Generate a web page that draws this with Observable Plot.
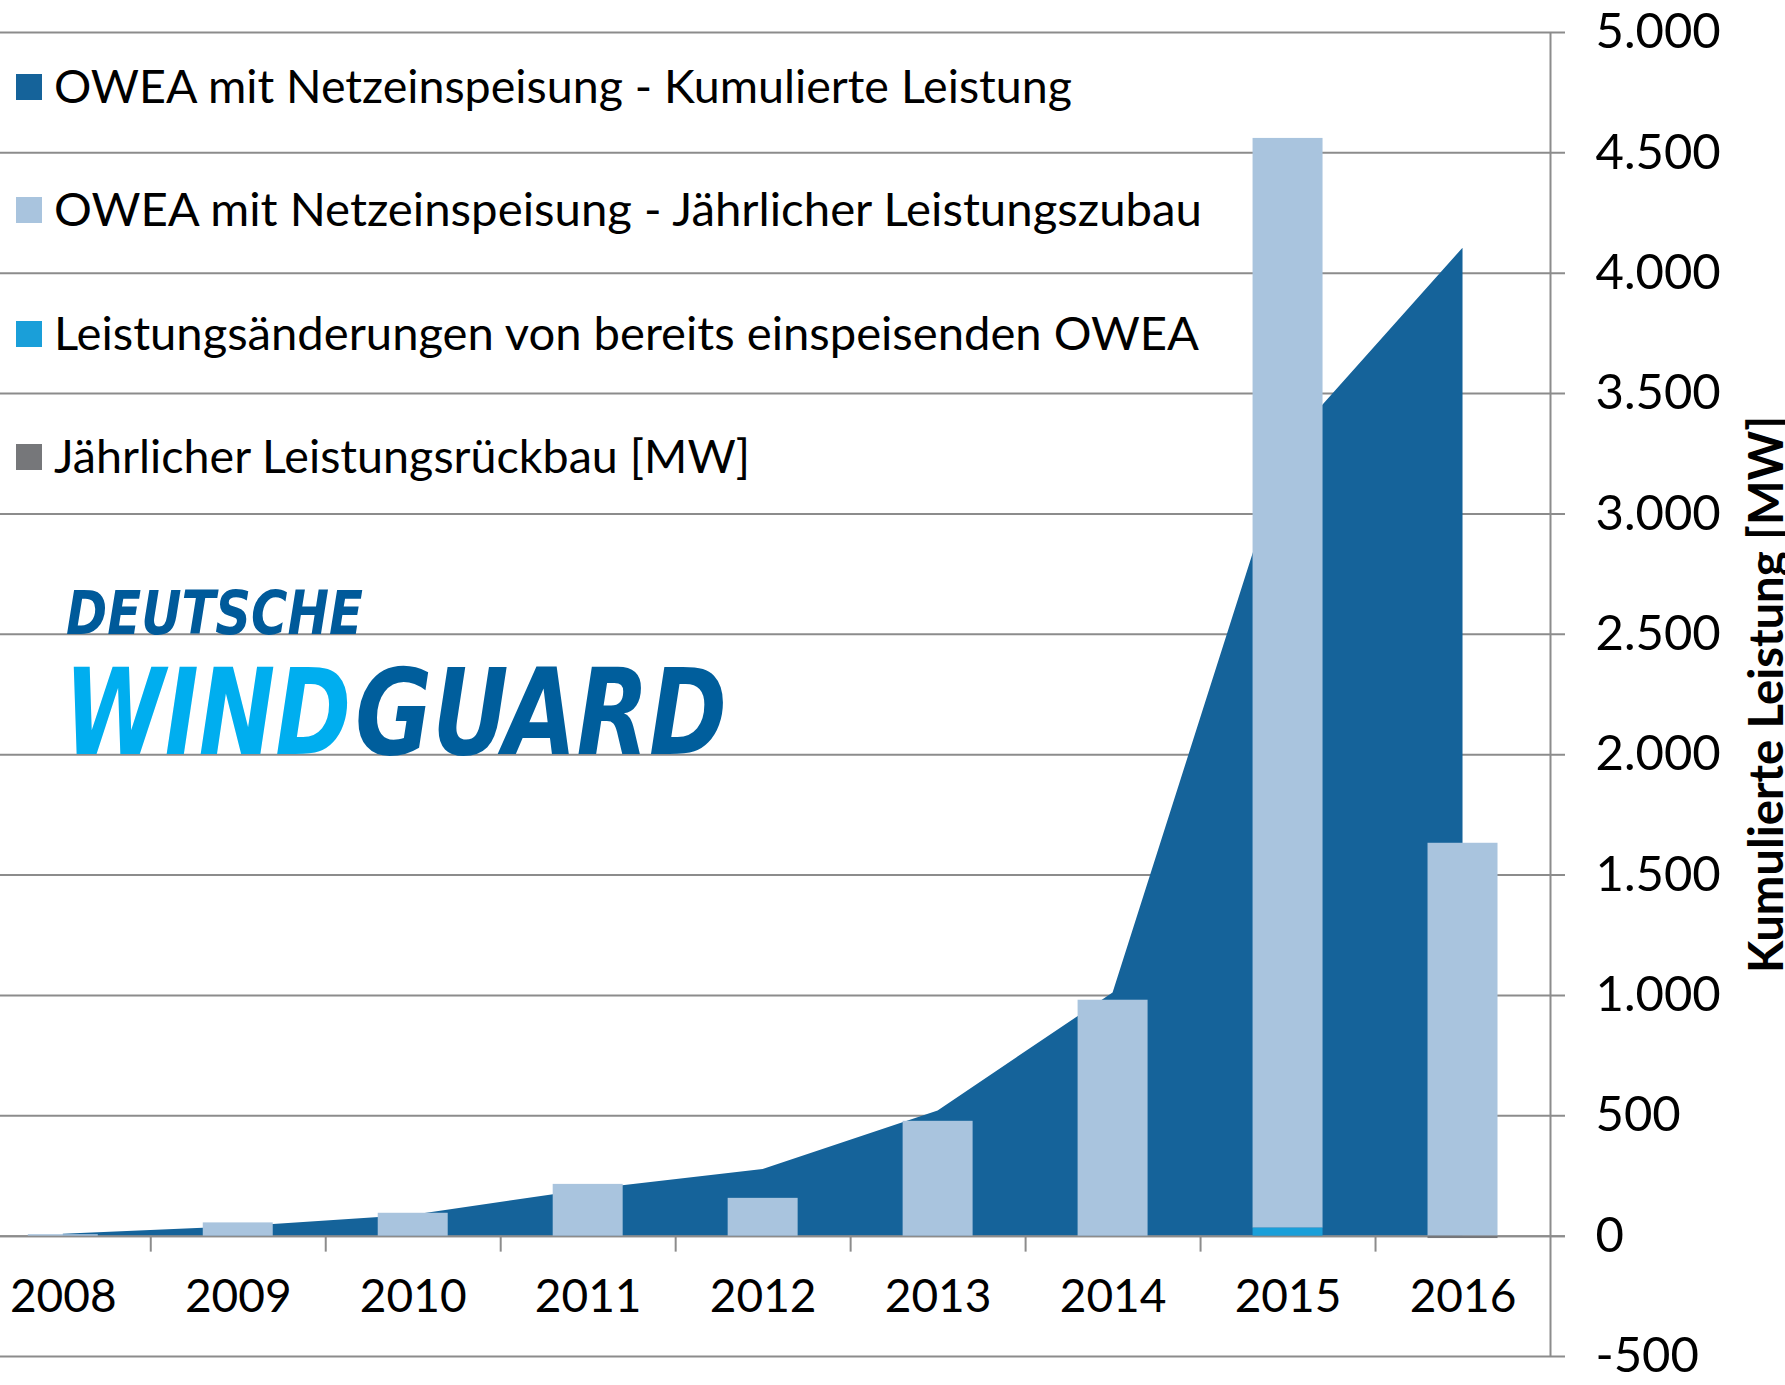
<!DOCTYPE html>
<html>
<head>
<meta charset="utf-8">
<script src="https://cdn.jsdelivr.net/npm/d3@7"></script>
<script src="https://cdn.jsdelivr.net/npm/@observablehq/plot@0.6"></script>
<style>
  html, body { margin: 0; padding: 0; background: #fff; }
  #wrap { position: relative; width: 1785px; height: 1385px; overflow: hidden; background: #fff; }
  #wrap > svg { position: absolute; left: 0; top: 0; }
</style>
</head>
<body>
<div id="wrap"></div>
<script>
// ---- data ----
const years = [2008, 2009, 2010, 2011, 2012, 2013, 2014, 2015, 2016];
const cumulativeMW = [8, 39, 87, 193, 277, 520, 1010, 3290, 4104];      // OWEA mit Netzeinspeisung - Kumulierte Leistung
const annualAdditionMW = [6, 55, 95, 215, 157, 477, 980, 4527, 1632];   // OWEA mit Netzeinspeisung - Jährlicher Leistungszubau
const capacityChangeMW = [0, 0, 0, 0, 0, 0, 0, 33, 0];                  // Leistungsänderungen von bereits einspeisenden OWEA
const decommissionMW = [0, 0, 0, 0, 0, 0, 0, 0, -10];                   // Jährlicher Leistungsrückbau
const yTicks = [-500, 0, 500, 1000, 1500, 2000, 2500, 3000, 3500, 4000, 4500, 5000];
const seriesLabels = [
  "OWEA mit Netzeinspeisung - Kumulierte Leistung",
  "OWEA mit Netzeinspeisung - Jährlicher Leistungszubau",
  "Leistungsänderungen von bereits einspeisenden OWEA",
  "Jährlicher Leistungsrückbau [MW]"
];
const axisTitle = "Kumulierte Leistung [MW]";
const logoTop = "DEUTSCHE";
const logoWords = ["WIND", "GUARD"];

// ---- styles ----
const seriesColors = ["#15639a", "#a9c4de", "#1a9fd9", "#76777a"];
const gridColor = "#8c8c8c";
const barHalf = 0.2; // half bar width, in category steps

const data = years.map((year, i) => ({
  year,
  cum: cumulativeMW[i],
  added: annualAdditionMW[i],
  change: capacityChangeMW[i],
  removed: decommissionMW[i]
}));
const xDomain = [years[0] - 0.5, years[years.length - 1] + 0.5];
const yDomain = [yTicks[0], yTicks[yTicks.length - 1]];
const boundaries = years.slice(0, -1).map(y => y + 0.5);

const chart = Plot.plot({
  width: 1785,
  height: 1385,
  marginTop: 32,
  marginBottom: 29,
  marginLeft: 0,
  marginRight: 235,
  style: {fontFamily: "Lato, sans-serif", fontSize: "49px", color: "#000", background: "transparent", overflow: "visible"},
  x: {domain: xDomain, range: [-24.7, 1550], axis: null},
  y: {domain: yDomain, label: null},
  marks: [
    Plot.ruleY(yTicks, {stroke: gridColor, strokeWidth: 2, insetRight: -15}),
    Plot.areaY(data, {x: "year", y: "cum", fill: seriesColors[0]}),
    Plot.ruleY([0], {stroke: gridColor, strokeWidth: 2, insetRight: -15}),
    Plot.ruleX([xDomain[1]], {y1: () => yDomain[0], y2: () => yDomain[1], stroke: gridColor, strokeWidth: 2}),
    Plot.ruleX(boundaries, {x: d => d, y1: () => 0, y2: () => 0, insetBottom: -16, stroke: gridColor, strokeWidth: 2}),
    Plot.rect(data, {x1: d => d.year - barHalf, x2: d => d.year + barHalf, y1: d => d.change, y2: d => d.change + d.added, fill: seriesColors[1]}),
    Plot.rect(data.filter(d => d.change !== 0), {x1: d => d.year - barHalf, x2: d => d.year + barHalf, y1: () => 0, y2: d => d.change, fill: seriesColors[2]}),
    Plot.rect(data.filter(d => d.removed !== 0), {x1: d => d.year - barHalf, x2: d => d.year + barHalf, y1: () => 0, y2: d => d.removed, fill: seriesColors[3]}),
    Plot.text(years, {x: d => d, y: () => 0, text: d => String(d), dy: 61, fontSize: 46, fill: "#000"}),
    Plot.axisY(yTicks, {anchor: "right", tickSize: 0, tickPadding: 45, label: null, tickFormat: d => d.toLocaleString("de-DE")})
  ]
});
document.getElementById("wrap").appendChild(chart);

// ---- overlay: legend, logo, axis title ----
const ov = d3.select("#wrap").append("svg")
  .attr("width", 1785).attr("height", 1385);

const legendCenters = [87, 210, 334, 457];
const legendWidths = [1018, 1148, 1145, 696];
seriesLabels.forEach((label, i) => {
  ov.append("rect")
    .attr("x", 16).attr("y", legendCenters[i] - 13)
    .attr("width", 26).attr("height", 26)
    .attr("fill", seriesColors[i]);
  ov.append("text")
    .attr("x", 54).attr("y", legendCenters[i] + 15.5)
    .attr("font-family", "Lato, sans-serif")
    .attr("font-size", 47)
    .attr("fill", "#000")
    .attr("textLength", legendWidths[i])
    .attr("lengthAdjust", "spacingAndGlyphs")
    .text(label);
});

const logoFont = "'DejaVu Sans Condensed', 'DejaVu Sans', sans-serif";
ov.append("text")
  .attr("x", 66).attr("y", 634)
  .attr("font-family", logoFont).attr("font-weight", "bold").attr("font-style", "italic")
  .attr("font-size", 61).attr("fill", "#005a9a")
  .attr("textLength", 297).attr("lengthAdjust", "spacingAndGlyphs")
  .text(logoTop);
const logoMain = ov.append("text")
  .attr("y", 754)
  .attr("font-family", logoFont).attr("font-weight", "bold").attr("font-style", "italic")
  .attr("font-size", 119);
logoMain.append("tspan")
  .attr("x", 64).attr("fill", "#00aeef")
  .attr("textLength", 287).attr("lengthAdjust", "spacingAndGlyphs")
  .text(logoWords[0]);
logoMain.append("tspan")
  .attr("x", 355).attr("fill", "#005e9c")
  .attr("textLength", 372).attr("lengthAdjust", "spacingAndGlyphs")
  .text(logoWords[1]);

ov.append("text")
  .attr("transform", "translate(1783,973) rotate(-90)")
  .attr("font-family", "Lato, sans-serif").attr("font-weight", "bold")
  .attr("font-size", 47).attr("fill", "#000")
  .attr("textLength", 557).attr("lengthAdjust", "spacingAndGlyphs")
  .text(axisTitle);
</script>
</body>
</html>
